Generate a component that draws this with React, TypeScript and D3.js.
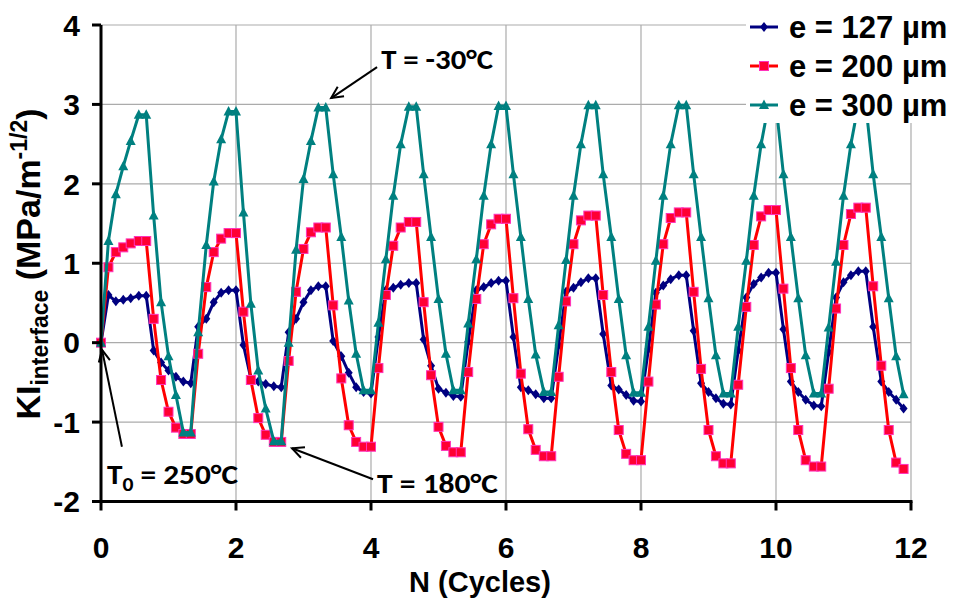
import React from 'react';
import * as d3 from 'd3';

// N (cycles) sample positions shared by the three series
const cycles = [
  0, 0.11, 0.22, 0.33, 0.44, 0.56, 0.67, 0.78, 0.89, 1.0,
  1.11, 1.22, 1.33, 1.44, 1.56, 1.67, 1.78, 1.89, 2.0, 2.11,
  2.22, 2.33, 2.44, 2.56, 2.67, 2.78, 2.89, 3.0, 3.11, 3.22,
  3.33, 3.44, 3.56, 3.67, 3.78, 3.89, 4.0, 4.11, 4.22, 4.33,
  4.44, 4.56, 4.67, 4.78, 4.89, 5.0, 5.11, 5.22, 5.33, 5.44,
  5.56, 5.67, 5.78, 5.89, 6.0, 6.11, 6.22, 6.33, 6.44, 6.56,
  6.67, 6.78, 6.89, 7.0, 7.11, 7.22, 7.33, 7.44, 7.56, 7.67,
  7.78, 7.89, 8.0, 8.11, 8.22, 8.33, 8.44, 8.56, 8.67, 8.78,
  8.89, 9.0, 9.11, 9.22, 9.33, 9.44, 9.56, 9.67, 9.78, 9.89,
  10.0, 10.11, 10.22, 10.33, 10.44, 10.56, 10.67, 10.78, 10.89, 11.0,
  11.11, 11.22, 11.33, 11.44, 11.56, 11.67, 11.78, 11.89,
];

const ki127 = [
  0, 0.6, 0.52, 0.54, 0.56, 0.59, 0.59, -0.1, -0.25, -0.35, -0.43, -0.49, -0.51,
  0.2, 0.3, 0.51, 0.63, 0.66, 0.66, -0.03, -0.45, -0.49, -0.52, -0.55, -0.56,
  0.13, 0.3, 0.51, 0.66, 0.71, 0.71, 0.02, -0.17, -0.38, -0.56, -0.62, -0.64,
  0.07, 0.66, 0.69, 0.73, 0.75, 0.75, 0.04, -0.29, -0.58, -0.63, -0.67, -0.68,
  0.01, 0.66, 0.7, 0.75, 0.78, 0.78, 0.07, -0.56, -0.6, -0.65, -0.7, -0.7,
  -0.03, 0.64, 0.69, 0.76, 0.81, 0.81, 0.11, -0.54, -0.59, -0.66, -0.73, -0.74,
  -0.08, 0.63, 0.72, 0.8, 0.85, 0.85, 0.15, -0.51, -0.62, -0.7, -0.77, -0.78,
  -0.1, 0.57, 0.74, 0.82, 0.88, 0.88, 0.17, -0.49, -0.62, -0.72, -0.79, -0.8,
  -0.12, 0.57, 0.76, 0.85, 0.9, 0.9, 0.2, -0.49, -0.62, -0.72, -0.83,
];

const ki200 = [
  0, 0.95, 1.14, 1.2, 1.25, 1.28, 1.28, 0.3, -0.47, -0.87, -1.07, -1.15, -1.15,
  -0.14, 0.7, 1.14, 1.31, 1.38, 1.38, 0.39, -0.47, -0.95, -1.16, -1.25, -1.25,
  -0.23, 0.64, 1.18, 1.39, 1.45, 1.45, 0.47, -0.45, -1.04, -1.25, -1.31, -1.31,
  -0.32, 0.6, 1.22, 1.45, 1.52, 1.52, 0.51, -0.41, -1.06, -1.3, -1.38, -1.38,
  -0.37, 0.55, 1.24, 1.49, 1.56, 1.56, 0.56, -0.39, -1.09, -1.35, -1.43, -1.43,
  -0.43, 0.52, 1.24, 1.54, 1.6, 1.6, 0.6, -0.37, -1.1, -1.4, -1.48, -1.48,
  -0.49, 0.48, 1.24, 1.57, 1.64, 1.64, 0.64, -0.33, -1.1, -1.43, -1.52, -1.52,
  -0.53, 0.45, 1.23, 1.59, 1.67, 1.67, 0.68, -0.32, -1.1, -1.48, -1.56, -1.56,
  -0.58, 0.43, 1.23, 1.62, 1.7, 1.7, 0.71, -0.29, -1.1, -1.51, -1.59,
];

const ki300 = [
  0, 1.28, 1.87, 2.22, 2.54, 2.87, 2.87, 1.6, 0.51, -0.17, -0.66, -1.13, -1.13,
  0.13, 1.23, 2.03, 2.56, 2.91, 2.91, 1.64, 0.49, -0.35, -0.83, -1.24, -1.24,
  0.0, 1.17, 2.06, 2.54, 2.96, 2.96, 2.12, 1.33, 0.53, -0.14, -0.6, -0.6,
  0.25, 1.05, 1.85, 2.5, 2.97, 2.97, 2.12, 1.33, 0.55, -0.14, -0.6, -0.6,
  0.24, 1.05, 1.85, 2.5, 2.98, 2.98, 2.12, 1.33, 0.55, -0.15, -0.62, -0.62,
  0.22, 1.04, 1.85, 2.5, 2.99, 2.99, 2.12, 1.33, 0.55, -0.16, -0.63, -0.63,
  0.2, 1.03, 1.85, 2.5, 2.99, 2.99, 2.12, 1.33, 0.56, -0.16, -0.64, -0.64,
  0.2, 1.03, 1.85, 2.5, 3.0, 3.0, 2.12, 1.33, 0.56, -0.16, -0.64, -0.64,
  0.19, 1.02, 1.85, 2.5, 3.0, 3.0, 2.12, 1.33, 0.56, -0.17, -0.65,
];

const seriesNames = ['e = 127 µm', 'e = 200 µm', 'e = 300 µm'];
const xTicks = [0, 2, 4, 6, 8, 10, 12];
const yTicks = [-2, -1, 0, 1, 2, 3, 4];

// annotations: text anchor and arrow in data coordinates
const annotations = [
  { main: 'T', sub: '', rest: ' = -30°C', tx: 4.15, ty: 3.45, x1: 4.09, y1: 3.47, x2: 3.41, y2: 3.08, len: 112 },
  { main: 'T', sub: '0', rest: ' = 250°C', tx: 0.09, ty: -1.78, x1: 0.31, y1: -1.31, x2: 0.015, y2: -0.09, len: 131 },
  { main: 'T', sub: '', rest: ' = 180°C', tx: 4.09, ty: -1.89, x1: 4.03, y1: -1.72, x2: 2.83, y2: -1.33, len: 121 },
];

const FONT = '"Liberation Sans", Arial, Helvetica, sans-serif';
const CAL = 'Carlito, Calibri, Lato, "Open Sans", sans-serif';

function Marker({ kind, color, stroke }: { kind: string; color: string; stroke?: string }) {
  if (kind === 'diamond') return <path d="M0,-5 L4,0 L0,5 L-4,0 Z" fill={color} />;
  if (kind === 'square')
    return <rect x={-4.5} y={-4.5} width={9} height={9} fill={color} stroke={stroke} strokeWidth={1} />;
  return <path d="M0,-5.5 L5,4 L-5,4 Z" fill={color} />;
}

export default function App() {
  const W = 954;
  const H = 599;
  const x = d3.scaleLinear().domain([0, 12]).range([101, 911]);
  const y = d3.scaleLinear().domain([-2, 4]).range([501.5, 25]);

  const series = [
    { name: seriesNames[0], values: ki127, color: '#000080', kind: 'diamond', stroke: undefined as string | undefined },
    { name: seriesNames[1], values: ki200, color: '#ff0033', kind: 'square', stroke: '#ff33bb' },
    { name: seriesNames[2], values: ki300, color: '#008080', kind: 'triangle', stroke: undefined },
  ];
  const lineColors = ['#000080', '#ff0000', '#008080'];

  const lineGen = (vals: number[]) =>
    d3
      .line<number>()
      .x((_, i) => x(cycles[i]))
      .y((d) => y(d))(vals) as string;

  const arrowHead = (x1: number, y1: number, x2: number, y2: number) => {
    const a = Math.atan2(y2 - y1, x2 - x1);
    const L = 13;
    const s = 0.45;
    const p1 = [x2 - L * Math.cos(a - s), y2 - L * Math.sin(a - s)];
    const p2 = [x2 - L * Math.cos(a + s), y2 - L * Math.sin(a + s)];
    return `M${p1[0]},${p1[1]} L${x2},${y2} L${p2[0]},${p2[1]}`;
  };

  const legendRows = [27, 66, 105];

  return (
    <svg
      width={W}
      height={H}
      style={{ position: 'absolute', left: 0, top: 0, background: '#fff' }}
      xmlns="http://www.w3.org/2000/svg"
    >
      <rect width={W} height={H} fill="#fff" />
      {/* grid */}
      {yTicks.filter((t) => t > -2).map((t) => (
        <line key={'gy' + t} x1={x(0)} x2={x(12)} y1={y(t)} y2={y(t)} stroke="#ababab" strokeWidth={1.2} />
      ))}
      {xTicks.filter((t) => t > 0).map((t) => (
        <line key={'gx' + t} x1={x(t)} x2={x(t)} y1={y(4)} y2={y(-2)} stroke="#ababab" strokeWidth={1.2} />
      ))}

      {/* series lines and markers */}
      {series.map((s, si) => (
        <g key={s.name}>
          <path d={lineGen(s.values)} fill="none" stroke={lineColors[si]} strokeWidth={3} strokeLinejoin="round" />
          {s.values.map((v, i) => (
            <g key={i} transform={`translate(${x(cycles[i])},${y(v)})`}>
              <Marker kind={s.kind} color={s.color} stroke={s.stroke} />
            </g>
          ))}
        </g>
      ))}

      {/* axes */}
      <line x1={x(0)} x2={x(0)} y1={y(4)} y2={y(-2)} stroke="#000" strokeWidth={3} />
      <line x1={x(0) - 1.5} x2={x(12) + 1.5} y1={y(-2)} y2={y(-2)} stroke="#000" strokeWidth={3} />
      {yTicks.map((t) => (
        <g key={'yt' + t}>
          <line x1={x(0) - 9} x2={x(0)} y1={y(t)} y2={y(t)} stroke="#000" strokeWidth={3} />
          <text x={80} y={y(t)} dy="0.36em" textAnchor="end" fontFamily={FONT} fontWeight="bold" fontSize={30}>
            {t}
          </text>
        </g>
      ))}
      {xTicks.map((t) => (
        <g key={'xt' + t}>
          <line x1={x(t)} x2={x(t)} y1={y(-2)} y2={y(-2) + 9} stroke="#000" strokeWidth={3} />
          <text x={x(t)} y={558} textAnchor="middle" fontFamily={FONT} fontWeight="bold" fontSize={30}>
            {t}
          </text>
        </g>
      ))}

      {/* axis titles */}
      <text x={480} y={592} textAnchor="middle" fontFamily={FONT} fontWeight="bold" fontSize={29}>
        N (Cycles)
      </text>
      <text
        transform="translate(40,264) rotate(-90)"
        textAnchor="middle"
        fontFamily={FONT}
        fontWeight="bold"
        fontSize={34}
      >
        KI
        <tspan fontSize={23} dy={8}>interface</tspan>
        <tspan dy={-8}> (MPa/m</tspan>
        <tspan fontSize={23} dy={-13}>-1/2</tspan>
        <tspan dy={13}>)</tspan>
      </text>

      {/* annotations */}
      {annotations.map((a, i) => (
        <g key={'an' + i}>
          <line x1={x(a.x1)} y1={y(a.y1)} x2={x(a.x2)} y2={y(a.y2)} stroke="#000" strokeWidth={2} />
          <path
            d={arrowHead(x(a.x1), y(a.y1), x(a.x2), y(a.y2))}
            fill="none"
            stroke="#000"
            strokeWidth={2}
          />
          <text
            x={x(a.tx)}
            y={y(a.ty)}
            fontFamily={CAL}
            fontWeight="bold"
            fontSize={29}
            textLength={a.len}
            lengthAdjust="spacingAndGlyphs"
          >
            {a.main}
            {a.sub ? (
              <tspan fontSize={20} dy={7}>
                {a.sub}
              </tspan>
            ) : null}
            <tspan dy={a.sub ? -7 : 0}>{a.rest}</tspan>
          </text>
        </g>
      ))}

      {/* legend */}
      <rect x={746} y={0} width={W - 746} height={123} fill="#fff" />
      {series.map((s, i) => (
        <g key={'lg' + i} transform={`translate(0,${legendRows[i]})`}>
          <line x1={750} x2={778} y1={0} y2={0} stroke={lineColors[i]} strokeWidth={3} />
          <g transform="translate(764,0)">
            <Marker kind={s.kind} color={s.color} stroke={s.stroke} />
          </g>
          <text x={789} y={0} dy="0.36em" fontFamily={FONT} fontWeight="bold" fontSize={31}>
            {s.name}
          </text>
        </g>
      ))}
    </svg>
  );
}
